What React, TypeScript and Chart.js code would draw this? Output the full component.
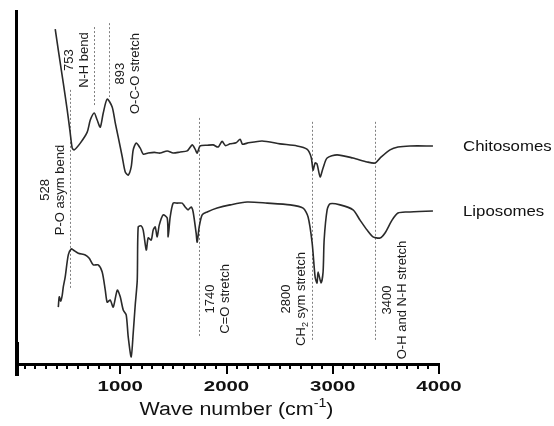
import React, { useEffect, useRef } from "react";
import { Chart, registerables } from "chart.js";
Chart.register(...registerables);

// Wavenumber (cm-1) and relative transmittance (arbitrary units, offset spectra)
const chitoWn = [388, 417, 464, 501, 529, 548, 567, 624, 689, 718, 755, 783, 812, 840, 877, 924, 953, 981, 1019, 1047, 1075, 1103, 1122, 1150, 1188, 1216, 1263, 1320, 1376, 1442, 1498, 1564, 1630, 1677, 1705, 1724, 1752, 1820, 1874, 1922, 1959, 1990, 2034, 2090, 2128, 2150, 2194, 2335, 2504, 2664, 2757, 2796, 2815, 2834, 2852, 2881, 2909, 2947, 3041, 3191, 3323, 3398, 3445, 3539, 3614, 3727, 3943];
const chitoT = [94.6, 88.7, 79.4, 71.8, 65.4, 61.1, 60.6, 62.5, 65.6, 69.0, 71.0, 69.0, 67.0, 71.0, 74.9, 72.7, 68.2, 64.2, 58.6, 54.4, 53.5, 55.8, 60.6, 62.5, 61.1, 59.4, 59.7, 59.9, 59.7, 60.3, 59.7, 60.0, 60.3, 62.0, 60.8, 59.7, 61.7, 61.9, 62.0, 61.4, 63.0, 61.8, 62.3, 62.6, 63.6, 62.2, 62.5, 63.1, 62.3, 61.7, 60.8, 58.6, 54.9, 56.9, 56.6, 53.0, 55.5, 58.3, 59.2, 58.3, 57.2, 56.9, 58.3, 60.6, 61.4, 61.7, 61.7];

const lipoWn = [417, 426, 440, 454, 464, 482, 511, 539, 558, 605, 671, 708, 746, 793, 830, 859, 877, 906, 934, 972, 1000, 1028, 1056, 1075, 1103, 1122, 1141, 1160, 1169, 1197, 1216, 1245, 1263, 1291, 1310, 1329, 1348, 1367, 1404, 1442, 1451, 1470, 1498, 1536, 1583, 1611, 1639, 1667, 1686, 1714, 1724, 1743, 1771, 1818, 1912, 2034, 2194, 2383, 2599, 2721, 2768, 2806, 2834, 2852, 2862, 2890, 2909, 2919, 2947, 2975, 3069, 3191, 3257, 3323, 3379, 3445, 3492, 3558, 3614, 3699, 3943];
const lipoT = [16.3, 19.2, 18.0, 19.7, 22.0, 24.8, 31.0, 32.7, 32.4, 31.5, 31.0, 30.1, 28.2, 28.2, 26.2, 21.1, 17.7, 18.3, 16.3, 21.1, 19.2, 15.5, 14.1, 7.9, 2.3, 9.0, 16.9, 23.9, 38.9, 39.2, 38.0, 32.4, 35.8, 35.2, 38.0, 38.9, 36.1, 39.4, 42.3, 41.4, 36.1, 41.7, 45.6, 45.6, 45.6, 44.5, 43.7, 44.5, 43.1, 37.2, 34.6, 38.9, 42.3, 43.1, 44.2, 45.1, 45.9, 45.6, 45.1, 44.2, 41.7, 34.4, 24.8, 23.1, 26.2, 23.1, 26.2, 35.2, 43.7, 45.4, 45.1, 43.7, 40.8, 38.0, 36.1, 35.8, 37.2, 40.8, 42.8, 43.1, 43.4];

const seriesNames = ["Chitosomes", "Liposomes"];
const xTickLabels = [1000, 2000, 3000, 4000];

const peakWn = [528, 753, 893, 1740, 2800, 3400];
const peakNames = ["P-O asym bend", "N-H bend", "O-C-O stretch", "C=O stretch", "CH|2| sym stretch", "O-H and N-H stretch"];
const peakTop = [77.5, 95.2, 96.3, 69.6, 68.5, 68.5];
const peakBottom = [21.1, 73.2, 75.5, 7.9, 7.0, 7.0];
const peakLabelMid = [49.3, 85.9, 82.1, 18.6, 18.6, 18.3];
const peakLabelSide = [-1, -1, 1, 1, -1, 1];

const FONT = "'Liberation Sans', Arial, sans-serif";

const drawPlugin = {
  id: "ftirDecor",
  beforeDatasetsDraw(chart: any) {
    const ctx = chart.ctx;
    const xs = chart.scales.x;
    const ys = chart.scales.y;
    ctx.save();
    ctx.strokeStyle = "#808080";
    ctx.lineWidth = 1;
    ctx.setLineDash([2, 2]);
    peakWn.forEach((w, i) => {
      const px = Math.round(xs.getPixelForValue(w)) + 0.5;
      ctx.beginPath();
      ctx.moveTo(px, ys.getPixelForValue(peakTop[i]));
      ctx.lineTo(px, ys.getPixelForValue(peakBottom[i]));
      ctx.stroke();
    });
    ctx.restore();
  },
  afterDraw(chart: any) {
    const ctx = chart.ctx;
    const xs = chart.scales.x;
    const ys = chart.scales.y;
    const x0 = xs.getPixelForValue(0);
    const xEnd = xs.getPixelForValue(4000);
    const axisY = ys.getPixelForValue(0);
    ctx.save();
    ctx.fillStyle = "#000";
    // y axis
    ctx.fillRect(x0 + 1, ys.top, 3, axisY + 11 - ys.top);
    ctx.fillRect(x0 + 1, axisY - 23, 4, 34);
    // x axis
    ctx.fillRect(x0 + 1, axisY - 2, xEnd - x0, 3);
    for (let v = 100; v <= 4000; v += 100) {
      const px = Math.round(xs.getPixelForValue(v));
      const major = v % 1000 === 0;
      ctx.fillRect(px - 1, axisY, 2, major ? 9 : 4);
    }
    // tick labels
    ctx.fillStyle = "#111";
    ctx.font = `bold 15px ${FONT}`;
    ctx.textAlign = "center";
    ctx.textBaseline = "alphabetic";
    xTickLabels.forEach((t) => {
      ctx.save();
      ctx.translate(xs.getPixelForValue(t), axisY + 26);
      ctx.scale(1.36, 1);
      ctx.fillText(String(t), 0, 0);
      ctx.restore();
    });
    // axis title with superscript
    {
      const main = "Wave number (cm";
      const sup = "-1";
      const close = ")";
      ctx.textAlign = "left";
      ctx.font = `18px ${FONT}`;
      const wMain = ctx.measureText(main).width;
      const wClose = ctx.measureText(close).width;
      ctx.font = `12px ${FONT}`;
      const wSup = ctx.measureText(sup).width;
      const total = wMain + wSup + wClose;
      ctx.save();
      ctx.translate((x0 + xEnd) / 2 + 10, axisY + 50);
      ctx.scale(1.19, 1);
      let cx = -total / 2;
      ctx.font = `18px ${FONT}`;
      ctx.fillText(main, cx, 0);
      cx += wMain;
      ctx.font = `12px ${FONT}`;
      ctx.fillText(sup, cx, -8);
      cx += wSup;
      ctx.font = `18px ${FONT}`;
      ctx.fillText(close, cx, 0);
      ctx.restore();
    }
    // series labels
    const ends = [chitoT[chitoT.length - 1], lipoT[lipoT.length - 1]];
    ctx.font = `15px ${FONT}`;
    ctx.textAlign = "left";
    seriesNames.forEach((n, i) => {
      ctx.save();
      ctx.translate(xEnd + 24, ys.getPixelForValue(ends[i]) + 5);
      ctx.scale(1.12, 1);
      ctx.fillText(n, 0, 0);
      ctx.restore();
    });
    // peak annotations (rotated)
    const drawRot = (text: string, px: number, py: number) => {
      ctx.save();
      ctx.translate(px, py);
      ctx.rotate(-Math.PI / 2);
      ctx.textBaseline = "middle";
      const parts = text.split("|");
      const fonts = parts.map((_, k) => (k % 2 === 1 ? `9px ${FONT}` : `13px ${FONT}`));
      const widths = parts.map((p, k) => {
        ctx.font = fonts[k];
        return ctx.measureText(p).width;
      });
      const total = widths.reduce((a, b) => a + b, 0);
      let cx = -total / 2;
      ctx.textAlign = "left";
      parts.forEach((p, k) => {
        ctx.font = fonts[k];
        ctx.fillText(p, cx, k % 2 === 1 ? 4 : 0);
        cx += widths[k];
      });
      ctx.restore();
    };
    ctx.fillStyle = "#1a1a1a";
    peakWn.forEach((w, i) => {
      const px = xs.getPixelForValue(w);
      const py = ys.getPixelForValue(peakLabelMid[i]);
      const side = peakLabelSide[i];
      const o1 = side < 0 ? -25 : 12;
      const o2 = side < 0 ? -10 : 27;
      drawRot(String(w), px + o1, py);
      drawRot(peakNames[i], px + o2, py);
    });
    ctx.restore();
  },
};

export default function App() {
  const ref = useRef<HTMLCanvasElement | null>(null);
  useEffect(() => {
    if (!ref.current) return;
    const chart = new Chart(ref.current, {
      type: "line",
      data: {
        datasets: [
          {
            label: seriesNames[0],
            data: chitoWn.map((x, i) => ({ x, y: chitoT[i] })),
            borderColor: "#2a2a2a",
            borderWidth: 1.6,
            pointRadius: 0,
            tension: 0.25,
            fill: false,
          },
          {
            label: seriesNames[1],
            data: lipoWn.map((x, i) => ({ x, y: lipoT[i] })),
            borderColor: "#2a2a2a",
            borderWidth: 1.6,
            pointRadius: 0,
            tension: 0.25,
            fill: false,
          },
        ],
      },
      options: {
        responsive: false,
        animation: false,
        events: [],
        layout: { padding: { left: 14, right: 115, top: 10, bottom: 61 } },
        scales: {
          x: { type: "linear", min: 0, max: 4000, display: false },
          y: { type: "linear", min: 0, max: 100, display: false },
        },
        plugins: {
          legend: { display: false },
          tooltip: { enabled: false },
          title: { display: false },
        },
      },
      plugins: [drawPlugin],
    } as any);
    return () => chart.destroy();
  }, []);
  return (
    <canvas
      ref={ref}
      width={554}
      height={426}
      style={{ position: "absolute", left: 0, top: 0, display: "block", background: "#fff" }}
    />
  );
}
